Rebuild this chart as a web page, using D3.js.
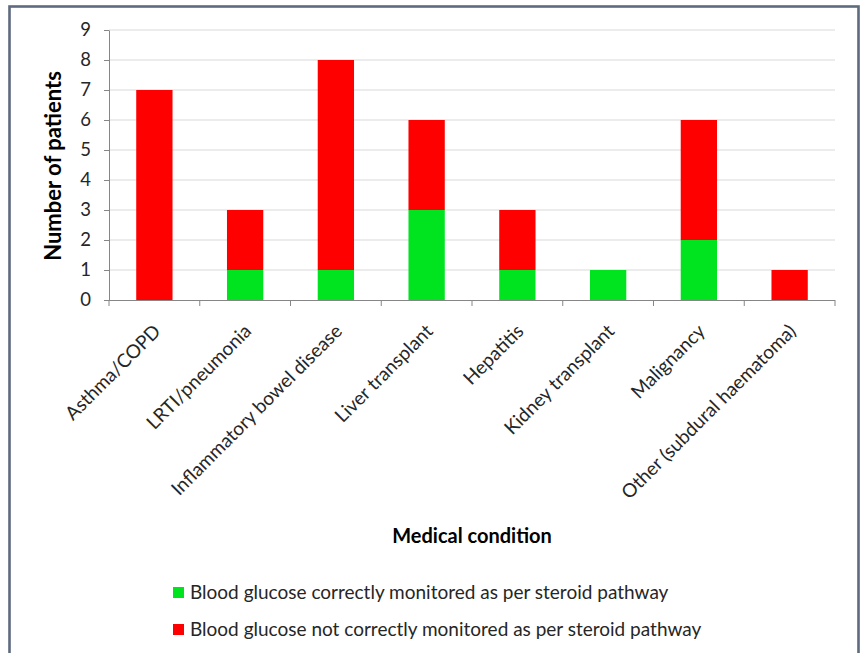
<!DOCTYPE html>
<html><head><meta charset="utf-8">
<script src="https://cdn.jsdelivr.net/npm/d3@7"></script>
<style>body{margin:0;background:#fff}svg{display:block}text{font-family:Lato,"Open Sans",sans-serif}</style>
</head><body>
<script>
const categories = ["Asthma/COPD","LRTI/pneumonia","Inflammatory bowel disease","Liver transplant","Hepatitis","Kidney transplant","Malignancy","Other (subdural haematoma)"];
const correct = [0,1,1,3,1,1,2,0];
const notCorrect = [7,2,7,3,2,0,4,1];
const seriesNames = ["Blood glucose correctly monitored as per steroid pathway","Blood glucose not correctly monitored as per steroid pathway"];
const yTicks = [0,1,2,3,4,5,6,7,8,9];

(function(){
const W=862,H=653;
const svg=d3.select("body").append("svg").attr("width",W).attr("height",H);
svg.append("rect").attr("x",9.5).attr("y",6.5).attr("width",849).attr("height",700)
  .attr("fill","#fff").attr("stroke","#5e6a7e").attr("stroke-width",2.6);

const pl=109,pr=835,pt=30,pb=300;
const x=d3.scaleBand().domain(categories).range([pl,pr]).paddingInner(0.6).paddingOuter(0.3);
const y=d3.scaleLinear().domain([0,9]).range([pb,pt]);

svg.append("g").selectAll("line").data(yTicks.slice(1)).join("line")
  .attr("x1",pl).attr("x2",pr).attr("y1",d=>y(d)).attr("y2",d=>y(d))
  .attr("stroke","#d9d9d9").attr("stroke-width",1.2);

const rows=categories.map((c,i)=>({cat:c,correct:correct[i],notCorrect:notCorrect[i]}));
const stack=d3.stack().keys(["correct","notCorrect"])(rows);
const colors=["#00e31f","#ff0000"];
svg.append("g").selectAll("g").data(stack).join("g").attr("fill",(d,i)=>colors[i])
  .selectAll("rect").data(d=>d.filter(s=>s[1]>s[0])).join("rect")
  .attr("x",d=>x(d.data.cat)).attr("width",x.bandwidth())
  .attr("y",d=>y(d[1])).attr("height",d=>y(d[0])-y(d[1]));

const ya=svg.append("g").attr("transform",`translate(${pl},0)`)
  .call(d3.axisLeft(y).tickValues(yTicks).tickSize(5).tickPadding(13).tickSizeOuter(0));
ya.select(".domain").attr("stroke","#868686");
ya.selectAll(".tick line").attr("stroke","#868686");
ya.selectAll("text").attr("font-size",18.5).attr("fill","#262626").attr("font-family","Lato");

const xa=svg.append("g");
xa.append("line").attr("x1",pl).attr("x2",pr).attr("y1",pb+0.5).attr("y2",pb+0.5).attr("stroke","#868686");
const bounds=d3.range(categories.length+1).map(i=>pl+i*(pr-pl)/categories.length);
xa.selectAll("line.t").data(bounds).join("line").attr("class","t")
  .attr("x1",d=>d).attr("x2",d=>d).attr("y1",pb).attr("y2",pb+6).attr("stroke","#868686");
xa.selectAll("text").data(categories).join("text")
  .attr("transform",d=>`translate(${x(d)+x.bandwidth()/2-2},${pb+23}) rotate(-45)`)
  .attr("text-anchor","end").attr("dy","0.7em").attr("font-size",19).attr("fill","#262626")
  .text(d=>d);

svg.append("text").attr("transform","translate(61,166) rotate(-90)").attr("text-anchor","middle")
  .attr("font-size",22).attr("font-weight","bold").attr("fill","#000").text("Number of patients");
svg.append("text").attr("x",472).attr("y",543).attr("text-anchor","middle")
  .attr("font-size",20).attr("font-weight","bold").attr("fill","#000").text("Medical condition");

const lg=svg.append("g").selectAll("g").data(seriesNames).join("g")
  .attr("transform",(d,i)=>`translate(173,${599+i*37})`);
lg.append("rect").attr("x",0).attr("y",-12).attr("width",11).attr("height",11).attr("fill",(d,i)=>colors[i]);
lg.append("text").attr("x",17).attr("font-size",19).attr("fill","#262626").text(d=>d);
})();
</script>
</body></html>
